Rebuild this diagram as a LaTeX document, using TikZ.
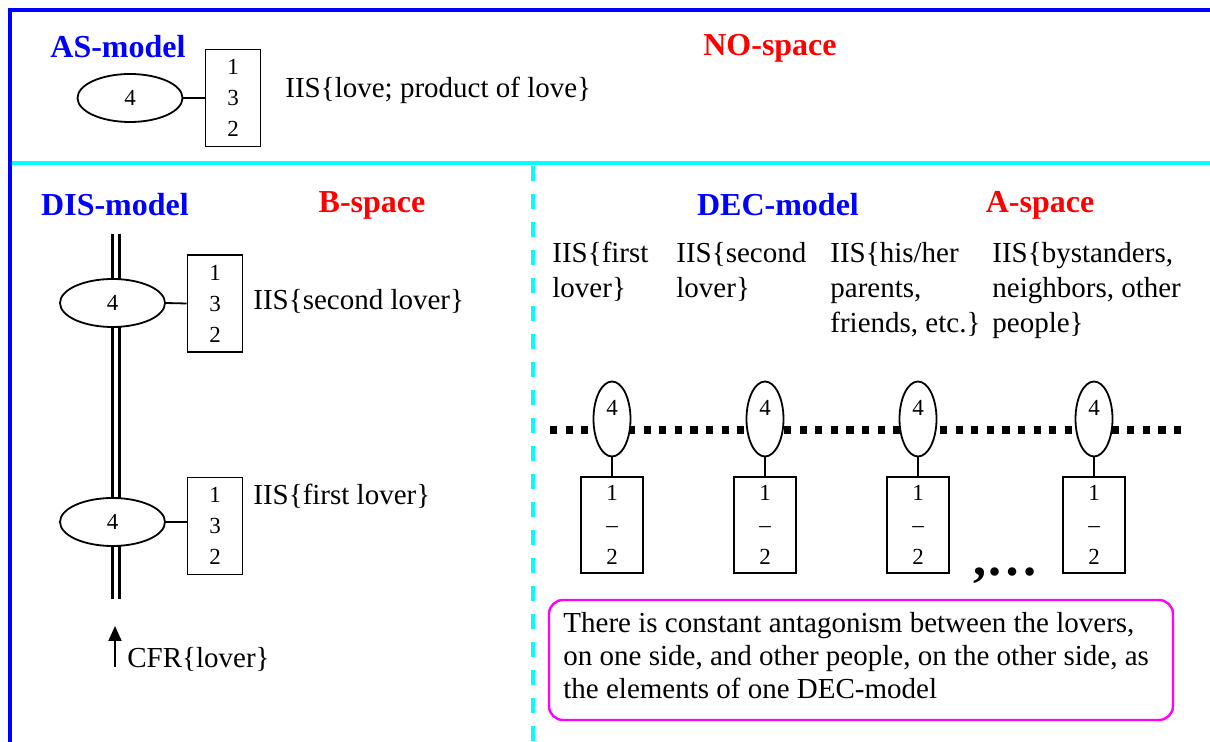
\documentclass[tikz,border=0pt]{standalone}
\usepackage{fontspec}
\setmainfont{Liberation Serif}
\usetikzlibrary{shapes.geometric, arrows.meta}
\definecolor{frameblue}{RGB}{0,0,255}
\definecolor{titleblue}{RGB}{0,0,255}
\definecolor{titlered}{RGB}{255,0,0}
\definecolor{sepcyan}{RGB}{0,255,255}
\definecolor{notemagenta}{RGB}{255,0,255}
\begin{document}
\begin{tikzpicture}[x=0.5pt, y=-0.5pt,
  title/.style={font=\fontsize{16}{19}\selectfont\bfseries, inner sep=0pt},
  modelname/.style={title, text=titleblue},
  spacename/.style={title, text=titlered},
  agent/.style={ellipse, draw, line width=0.9pt, fill=white, inner sep=0pt,
    minimum width=52.5pt, minimum height=24pt, font=\fontsize{11.5}{13}\selectfont},
  stack/.style={draw, line width=0.9pt, fill=white, inner sep=0pt, align=center,
    minimum width=27.5pt, minimum height=48.5pt, font=\fontsize{11.5}{15.5}\selectfont},
  vagent/.style={ellipse, draw, line width=0.9pt, fill=white, inner sep=0pt,
    minimum width=18.5pt, minimum height=37.5pt},
  vstack/.style={draw, line width=0.9pt, fill=white, inner sep=0pt, align=center,
    minimum width=31pt, minimum height=48pt, font=\fontsize{11.5}{16}\selectfont},
  digit/.style={inner sep=0pt, font=\fontsize{11.5}{13}\selectfont},
  iis/.style={inner sep=0pt, align=left, font=\fontsize{14.5}{17.5}\selectfont},
  link/.style={line width=0.9pt}
]
\useasboundingbox (0,0) rectangle (1210,742);

% frame and separators
\draw[frameblue, line width=1.6pt] (10,742) -- (10,10) -- (1210,10);
\draw[sepcyan, line width=2pt] (12,163) -- (1210,163);
\draw[sepcyan, line width=2pt, dash pattern=on 7.5pt off 6.5pt] (533,166) -- (533,742);

% AS-model / NO-space
\node[modelname] (asname) at (118,47) {AS-model};
\node[spacename] (nospace) at (770,48) {NO-space};
\node[agent] (asag) at (130,98) {4};
\node[stack] (asst) at (233,98) {1\\3\\2};
\draw[link] (asag.east) -- (asst.west);
\node[iis, anchor=west] (asiis) at (285,90) {IIS\{love; product of love\}};

% DIS-model / B-space
\node[modelname] (disname) at (115,205) {DIS-model};
\node[spacename] (bspace) at (372,205) {B-space};
\coordinate (railtop) at (116,234);
\coordinate (railbot) at (116,599);
\draw[line width=1.5pt, double, double distance=2.2pt] (railtop) -- (railbot);
\node[agent] (disag1) at (112.5,303) {4};
\node[stack] (disst1) at (215,303.5) {1\\3\\2};
\draw[link] (disag1.east) -- (disst1.west);
\node[iis, anchor=west] (disiis1) at (253,301) {IIS\{second lover\}};
\node[agent] (disag2) at (112.5,522) {4};
\node[stack] (disst2) at (215,526) {1\\3\\2};
\draw[link] (disag2.east) -- (disst2.west |- disag2.east);
\node[iis, anchor=west] (disiis2) at (253,496) {IIS\{first lover\}};
\coordinate (cfrtail) at (115,667);
\coordinate (cfrtip) at (115,626);
\draw[line width=1pt, -{Triangle[length=7.5pt, width=6.5pt]}] (cfrtail) -- (cfrtip);
\node[iis, anchor=west] (cfr) at (127,659) {CFR\{lover\}};

% DEC-model / A-space
\node[modelname] (decname) at (778,205) {DEC-model};
\node[spacename] (aspace) at (1040,205) {A-space};
\node[iis, anchor=north west] (deciis1) at (552,242) {IIS\{first\\lover\}};
\node[iis, anchor=north west] (deciis2) at (676,242) {IIS\{second\\lover\}};
\node[iis, anchor=north west] (deciis3) at (830,242) {IIS\{his/her\\parents,\\friends, etc.\}};
\node[iis, anchor=north west] (deciis4) at (992,242) {IIS\{bystanders,\\neighbors, other\\people\}};

\coordinate (chainleft) at (550,430);
\coordinate (chainright) at (1182,430);
\draw[line width=3.6pt, dash pattern=on 3.6pt off 4.2pt] (chainleft) -- (chainright);

\foreach \i/\x in {1/612,2/765,3/918,4/1094}{
  \node[vagent] (decag\i) at (\x,419) {};
  \node[digit] (decfour\i) at (\x,408) {4};
  \node[vstack] (decst\i) at (\x,525) {1\\–\\2};
  \draw[link] (decag\i.south) -- (decst\i.north);
}
\node[inner sep=0pt, anchor=base west, font=\fontsize{26}{28}\selectfont\bfseries] (etc) at (973,576) {,…};

% remark box
\node[draw=notemagenta, line width=1.2pt, rounded corners=7pt, inner sep=0pt,
  minimum width=312pt, minimum height=60pt] (note) at (861,660) {};
\node[inner sep=0pt, anchor=north west, align=left, font=\fontsize{14.5}{16.5}\selectfont]
  (notetext) at (563,612) {There is constant antagonism between the lovers,\\on one side, and other people, on the other side, as\\the elements of one DEC-model};
\end{tikzpicture}
\end{document}
